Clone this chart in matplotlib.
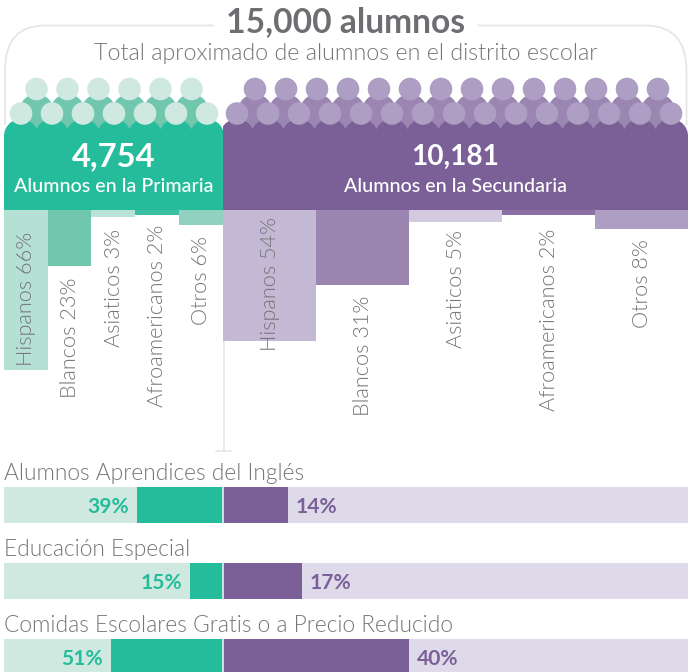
import matplotlib
matplotlib.use('Agg')
import matplotlib.pyplot as plt
from matplotlib.patches import Rectangle, Circle, PathPatch
from matplotlib.path import Path

plt.rcParams['font.family'] = ['Lato', 'DejaVu Sans']

TEAL = '#24bc9b'
TEAL_MID = '#70c7ae'
TEAL_LIGHT = '#d0e9e0'
PURPLE = '#7b6098'
PURPLE_MID = '#9b86b1'
PURPLE_HEAD = '#ae9ec3'
PURPLE_LIGHT = '#dedae9'
GRAY = '#6d6e71'
TEXT = '#757577'
FRAME = '#e6e6e6'

# data
groups = ['Hispanos', 'Blancos', 'Asiaticos', 'Afroamericanos', 'Otros']
primaria = [66, 23, 3, 2, 6]
secundaria = [54, 31, 5, 2, 8]
prog_names = ['Alumnos Aprendices del Inglés', 'Educación Especial',
              'Comidas Escolares Gratis o a Precio Reducido']
prog_primaria = [39, 15, 51]
prog_secundaria = [14, 17, 40]

# layout, in pixels
left, mid, right = 4, 222.5, 688
bar_top = 210
px_per_pct = 2.42
prim_cols = ['#b5e0d4', TEAL_MID, '#b9e3d7', '#3bbfa2', '#90d2bf']
sec_cols = ['#c4b9d5', PURPLE_MID, '#d3cae0', '#8a70a4', PURPLE_HEAD]
prim_label_top = [232, 277, 229, 225, 236]
sec_label_top = [217, 296, 230, 229, 239]
prog_y = [487, 563, 639]
prog_h = 36

fig = plt.figure(figsize=(6.88, 6.72), dpi=100)
ax = fig.add_axes([0, 0, 1, 1])
ax.set_xlim(0, 688)
ax.set_ylim(672, 0)
ax.axis('off')


def px(size):
    return size * 0.72


# frame round the title
verts = [(214, 25.5), (45, 25.5), (5, 25.5), (5, 70), (5, 125)]
codes = [Path.MOVETO, Path.LINETO, Path.CURVE3, Path.CURVE3, Path.LINETO]
ax.add_patch(PathPatch(Path(verts, codes), fc='none', ec=FRAME, lw=1.3))
verts = [(478, 25.5), (645, 25.5), (686.5, 25.5), (686.5, 70), (686.5, 125)]
ax.add_patch(PathPatch(Path(verts, codes), fc='none', ec=FRAME, lw=1.3))
ax.plot([223.5, 223.5], [341, 451], color=FRAME, lw=1.2)
ax.plot([216, 231], [451, 451], color=FRAME, lw=1.2)

ax.text(345.5, 22, '15,000 alumnos', ha='center', va='center', color=GRAY,
        fontsize=px(33.7), fontweight='bold')
ax.text(345.5, 53, 'Total aproximado de alumnos en el distrito escolar',
        ha='center', va='center', color=TEXT, fontsize=px(23.3), fontweight=300)


def people(x0, x1, front_x, n_front, back_x, n_back, main, body, head):
    clip = Rectangle((x0, 0), x1 - x0, 672, transform=ax.transData)
    for i in range(n_back):
        x = back_x + 31 * i
        ax.add_patch(Circle((x, 111), 17, fc=body, ec='none', zorder=2))
        ax.add_patch(Rectangle((x - 15.5, 111), 31, 26, fc=body, ec='none', zorder=2))
        ax.add_patch(Circle((x, 89), 11.3, fc=head, ec='none', zorder=3))
    for i in range(n_front):
        x = front_x + 31 * i
        body_c = Circle((x, 136), 17, fc=main, ec='none', zorder=4)
        ax.add_patch(body_c)
        body_c.set_clip_path(clip)
        ax.add_patch(Circle((x, 113.5), 11.3, fc=head, ec='none', zorder=5))
    ax.add_patch(Rectangle((x0, 136), x1 - x0, bar_top - 136, fc=main, ec='none', zorder=4))


people(left, mid, 21, 7, 36.5, 6, TEAL, TEAL_MID, TEAL_LIGHT)
people(mid, right, 237, 15, 255, 14, PURPLE, PURPLE_MID, PURPLE_HEAD)

ax.text(113.5, 157, '4,754', ha='center', va='center', color='white', fontsize=px(32.8), fontweight='bold', zorder=6)
ax.text(113.5, 186, 'Alumnos en la Primaria', ha='center', va='center', color='white', fontsize=px(19.6), fontweight=500, zorder=6)
ax.text(455, 157, '10,181', ha='center', va='center', color='white', fontsize=px(28), fontweight='bold', zorder=6)
ax.text(455, 186, 'Alumnos en la Secundaria', ha='center', va='center', color='white', fontsize=px(19.6), fontweight=500, zorder=6)


def breakdown(x0, x1, vals, cols, tops):
    w = (x1 - x0) / len(vals)
    for i, v in enumerate(vals):
        ax.bar(x0 + w * i, v * px_per_pct, w, bar_top, align='edge', color=cols[i], lw=0, zorder=2)
        ax.text(x0 + w * (i + 0.5) + 0.5, tops[i], f'{groups[i]} {v}%', rotation=90,
                ha='center', va='top', color=TEXT, fontsize=px(21.6), fontweight=300, zorder=7)


breakdown(left, mid, primaria, prim_cols, prim_label_top)
breakdown(mid, right, secundaria, sec_cols, sec_label_top)

# programme bars, each side has its own scale
prim_scale = (mid - left) / 100
sec_scale = (right - mid) / 100
for name, p, s, y in zip(prog_names, prog_primaria, prog_secundaria, prog_y):
    ax.text(4, y - 14, name, ha='left', va='center', color=TEXT, fontsize=px(22.7), fontweight=300)
    ax.barh(y, mid - left, prog_h, left, align='edge', color=TEAL_LIGHT, lw=0)
    ax.barh(y, p * prim_scale, prog_h, mid - p * prim_scale, align='edge', color=TEAL, lw=0)
    ax.barh(y, right - mid, prog_h, mid, align='edge', color=PURPLE_LIGHT, lw=0)
    ax.barh(y, s * sec_scale, prog_h, mid, align='edge', color=PURPLE, lw=0)
    ax.plot([mid + 0.5, mid + 0.5], [y, y + prog_h], color='#e8eeee', lw=1.2)
    ax.text(mid - p * prim_scale - 8, y + 20, f'{p}%', ha='right', va='center', color=TEAL, fontsize=px(21), fontweight='bold')
    ax.text(mid + s * sec_scale + 8, y + 20, f'{s}%', ha='left', va='center', color=PURPLE, fontsize=px(21), fontweight='bold')

fig.savefig('out.png', dpi=100)
